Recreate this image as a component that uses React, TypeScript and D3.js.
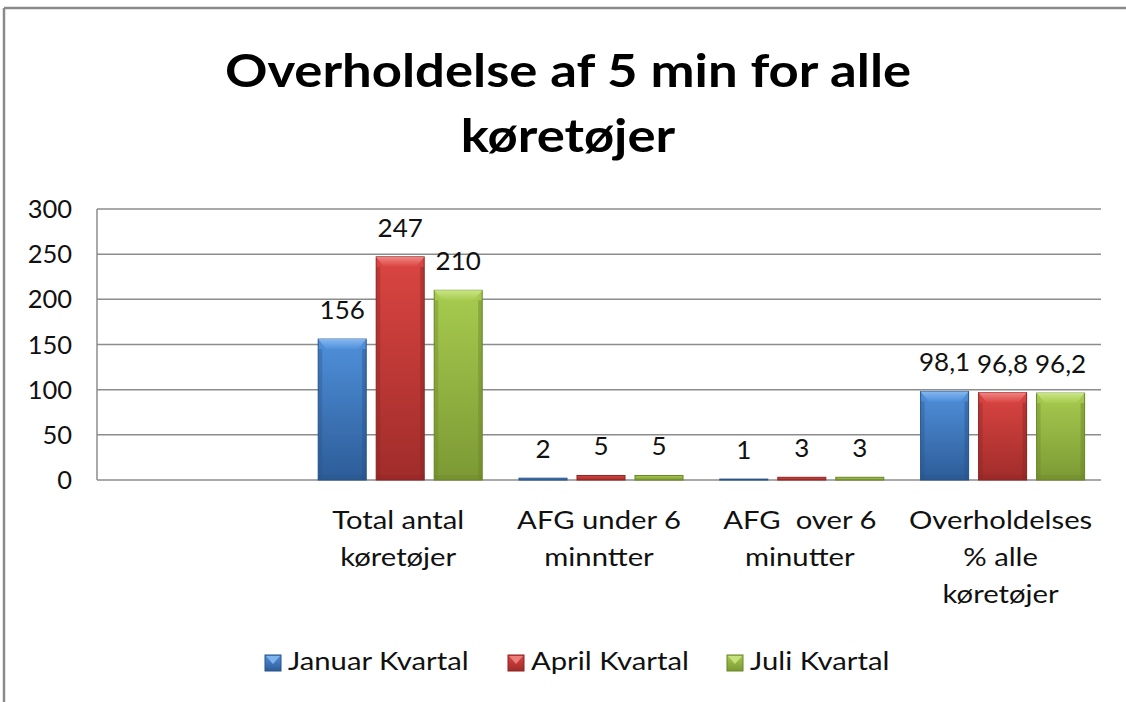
import * as d3 from 'd3';
import React from 'react';

const W = 1126;
const H = 702;

const titleLines = ['Overholdelse af 5 min for alle', 'køretøjer'];

// first category is blank in the source sheet
const categories = [
  '',
  'Total antal\nkøretøjer',
  'AFG under 6\nminntter',
  'AFG  over 6\nminutter',
  'Overholdelses\n% alle\nkøretøjer',
];

const seriesNames = ['Januar Kvartal', 'April Kvartal', 'Juli Kvartal'];
const januar = [null, 156, 2, 1, 98.1];
const april = [null, 247, 5, 3, 96.8];
const juli = [null, 210, 5, 3, 96.2];
const seriesValues = [januar, april, juli];

const yTicks = [0, 50, 100, 150, 200, 250, 300];

const palette = [
  { top: '#4f90da', bottom: '#2d5c98', bevel: '#86b8f0', edge: '#285289' },
  { top: '#da4542', bottom: '#a02c2a', bevel: '#f08583', edge: '#8a2523' },
  { top: '#a7cb4f', bottom: '#7c9934', bevel: '#c8e584', edge: '#6a8528' },
];

const FONT = 'Lato, "Open Sans", sans-serif';
const STRETCH = 1.17; // source text is a little wider than Lato
const fmt = (v: number) => String(v).replace('.', ',');

const margin = { left: 97, right: 25, top: 209, bottom: 222 };

// text drawn at (x, y) and stretched horizontally around its anchor
function SText({ x, y, sx = STRETCH, children, ...rest }: any) {
  return (
    <g transform={`translate(${x},${y}) scale(${sx},1)`}>
      <text x={0} y={0} style={{ whiteSpace: 'pre' }} {...rest}>
        {children}
      </text>
    </g>
  );
}

export default function App() {
  const x0 = margin.left;
  const x1 = W - margin.right;
  const yBase = H - margin.bottom;

  const y = d3.scaleLinear().domain([0, 300]).range([yBase, margin.top]);
  const xCat = d3.scaleBand().domain(categories).range([x0, x1]).padding(0);
  const groupW = 164;
  const xSer = d3.scaleBand().domain(seriesNames).range([0, groupW]).paddingInner(10 / 58);

  const bars: React.ReactNode[] = [];
  const labels: React.ReactNode[] = [];
  categories.forEach((cat, ci) => {
    const gx = (xCat(cat) as number) + (xCat.bandwidth() - groupW) / 2 + 2;
    seriesNames.forEach((s, si) => {
      const v = seriesValues[si][ci];
      if (v == null) return;
      const bx = gx + (xSer(s) as number);
      const bw = xSer.bandwidth();
      const top = y(v);
      const h = yBase - top;
      const bev = Math.min(10, h / 3);
      const side = Math.min(4, h / 3);
      bars.push(
        <g key={`b${ci}-${si}`}>
          <rect x={bx} y={top} width={bw} height={h} fill={`url(#grad${si})`} stroke={palette[si].edge} strokeWidth={1} />
          {h > 6 && (
            <>
              <polygon
                points={`${bx},${top} ${bx + bw},${top} ${bx + bw - side * 2},${top + bev} ${bx + side * 2},${top + bev}`}
                fill={`url(#bev${si})`}
              />
              <rect x={bx} y={top + bev} width={side} height={h - bev} fill={palette[si].edge} opacity={0.35} />
              <rect x={bx + bw - side} y={top + bev} width={side} height={h - bev} fill={palette[si].edge} opacity={0.45} />
              <rect x={bx} y={yBase - 5} width={bw} height={5} fill={palette[si].edge} opacity={0.3} />
            </>
          )}
        </g>
      );
      labels.push(
        <SText key={`l${ci}-${si}`} x={bx + bw / 2} y={top - 20} sx={1.04} textAnchor="middle" fontSize={25} fill="#111">
          {fmt(v)}
        </SText>
      );
    });
  });

  const legendItems = [
    { x: 265, label: seriesNames[0] },
    { x: 508, label: seriesNames[1] },
    { x: 727, label: seriesNames[2] },
  ];

  return (
    <svg width={W} height={H} style={{ position: 'absolute', left: 0, top: 0, background: '#fff' }} fontFamily={FONT}>
      <defs>
        {palette.map((p, i) => (
          <linearGradient key={i} id={`grad${i}`} x1="0" y1="0" x2="0" y2="1">
            <stop offset="0%" stopColor={p.top} />
            <stop offset="100%" stopColor={p.bottom} />
          </linearGradient>
        ))}
        {palette.map((p, i) => (
          <linearGradient key={`b${i}`} id={`bev${i}`} x1="0" y1="0" x2="0" y2="1">
            <stop offset="0%" stopColor={p.bevel} />
            <stop offset="100%" stopColor={p.top} />
          </linearGradient>
        ))}
      </defs>
      <rect x={0} y={0} width={W} height={H} fill="#fff" />
      {/* chart frame */}
      <line x1={4} y1={8} x2={W} y2={8} stroke="#8a8a8a" strokeWidth={2.5} />
      <line x1={4} y1={8} x2={4} y2={H} stroke="#8a8a8a" strokeWidth={2.5} />

      {titleLines.map((t, i) => (
        <SText key={t} x={568} y={87 + i * 65} textAnchor="middle" fontSize={45} fontWeight={700} fill="#000">
          {t}
        </SText>
      ))}

      {yTicks.map((t) => (
        <g key={t}>
          <line x1={x0} x2={x1} y1={y(t)} y2={y(t)} stroke="#8c8c8c" strokeWidth={1.5} />
          <SText x={72} y={y(t) + 9} sx={1.02} textAnchor="end" fontSize={25} fill="#111">
            {t}
          </SText>
        </g>
      ))}
      <line x1={x0} x2={x0} y1={y(300)} y2={yBase} stroke="#8c8c8c" strokeWidth={1.5} />

      {bars}
      {labels}

      {categories.map((c, ci) =>
        c.split('\n').map((line, li) => (
          <SText
            key={`c${ci}-${li}`}
            x={(xCat(c) as number) + xCat.bandwidth() / 2}
            y={529 + li * 37}
            textAnchor="middle"
            fontSize={25}
            fill="#111"
          >
            {line}
          </SText>
        ))
      )}

      {legendItems.map((it, i) => (
        <g key={it.label}>
          <rect x={it.x} y={655} width={16} height={16} fill={`url(#grad${i})`} stroke={palette[i].edge} strokeWidth={1} />
          <polygon points={`${it.x + 1},${656} ${it.x + 15},${656} ${it.x + 8},${664}`} fill={palette[i].bevel} opacity={0.9} />
          <SText x={it.x + 23} y={670} fontSize={25} fill="#111">
            {it.label}
          </SText>
        </g>
      ))}
    </svg>
  );
}
